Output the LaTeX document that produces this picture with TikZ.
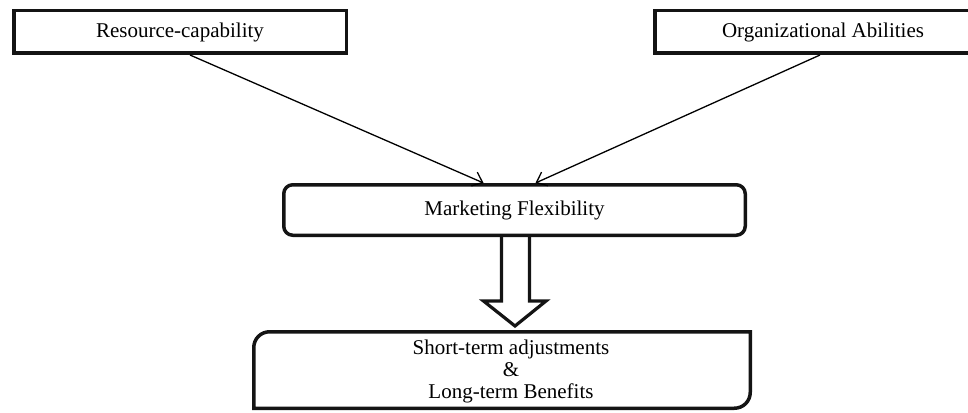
\documentclass[tikz,border=0pt]{standalone}
\usepackage{fontspec}
\setmainfont{Liberation Serif}
\usetikzlibrary{arrows.meta,calc}
\begin{document}
\begin{tikzpicture}[x=1pt,y=-1pt,
  txt/.style={font=\fontsize{21}{22}\selectfont},
  box/.style={draw=black!92, line width=3.5pt, minimum width=#1, minimum height=42.5pt, inner sep=0pt, txt},
  conn/.style={line width=1.3pt, -{Straight Barb[length=9pt,width=15pt,line width=1.3pt]}},
  blockarrow/.style={draw=black!92, line width=3.2pt, line join=miter},
  outline/.style={draw=black!92, line width=3.5pt}]
\useasboundingbox (0,0) rectangle (968,412);
\clip (0,0) rectangle (968,412);
\node[box=332.5pt] (res) at (180,32) {Resource-capability};
\node[box=336.5pt] (org) at (823,32) {Organizational Abilities};
\node[box=461.5pt, rounded corners=9pt, minimum height=50.5pt] (mf) at (514.5,210) {Marketing Flexibility};
\node[minimum width=496.5pt, minimum height=76.5pt, inner sep=0pt, outer sep=0pt] (out) at (502,370) {};
\node[txt, align=center, inner sep=0pt] (outtxt) at (511,371) {Short-term adjustments\\\&\\Long-term Benefits};
\draw[outline] (out.south west) -- ($(out.north west)+(0,16)$) .. controls ($(out.north west)+(0,7)$) and ($(out.north west)+(7,0)$) .. ($(out.north west)+(16,0)$) -- (out.north east) -- ($(out.south east)+(0,-16)$) .. controls ($(out.south east)+(0,-7)$) and ($(out.south east)+(-7,0)$) .. ($(out.south east)+(-16,0)$) -- cycle;
\draw[conn] ($(res.south)+(10,0)$) -- ($(mf.north)+(-31,0)$);
\draw[conn] ($(org.south)+(-3,0)$) -- ($(mf.north)+(21,0)$);
\draw[blockarrow] ($(mf.south)+(-13,0)$) -- ($(mf.south)+(-13,64)$) -- ($(mf.south)+(-31,64)$) -- ($(mf.south)+(0.5,89)$) -- ($(mf.south)+(31.5,64)$) -- ($(mf.south)+(15,64)$) -- ($(mf.south)+(15,0)$);
\end{tikzpicture}
\end{document}
